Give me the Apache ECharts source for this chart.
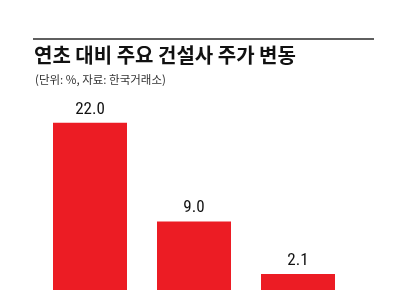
<!DOCTYPE html>
<html><head><meta charset="utf-8">
<script src="https://cdn.jsdelivr.net/npm/echarts@6/dist/echarts.min.js"></script>
<style>html,body{margin:0;padding:0;background:#fff}#c{width:410px;height:290px}</style>
</head><body><div id="c"></div>
<script>
const titleText = '연초 대비 주요 건설사 주가 변동';
const subtitleText = '(단위: %, 자료: 한국거래소)';
const categories = ['A', 'B', 'C'];
const values = [22.0, 9.0, 2.1];

const chart = echarts.init(document.getElementById('c'), null, {renderer: 'canvas'});
chart.setOption({
  backgroundColor: '#fff',
  animation: false,
  graphic: [
    {type: 'line', shape: {x1: 33, y1: 39, x2: 374, y2: 39}, style: {stroke: '#2a2a2a', lineWidth: 1.5}},
    {type: 'text', left: 34, top: 45, style: {text: titleText, font: 'bold 20px "Noto Sans CJK KR"', fill: '#111'}},
    {type: 'text', left: 35, top: 74, style: {text: subtitleText, font: '11.5px "Noto Sans CJK KR"', fill: '#333'}}
  ],
  grid: {left: 38, right: 60, top: 100, bottom: -2, containLabel: false},
  xAxis: {type: 'category', data: categories, axisLine: {show: false}, axisTick: {show: false}, axisLabel: {show: false}},
  yAxis: {type: 'value', min: 0, max: 25, show: false, splitLine: {show: false}},
  series: [{
    type: 'bar', data: values, barWidth: 74,
    itemStyle: {color: '#ec1c24'},
    label: {show: true, position: 'top', distance: 5, color: '#111', fontSize: 17,
      fontFamily: '"Liberation Sans Narrow", "Roboto Condensed", Roboto',
      formatter: p => p.value.toFixed(1)}
  }]
});
</script></body></html>
